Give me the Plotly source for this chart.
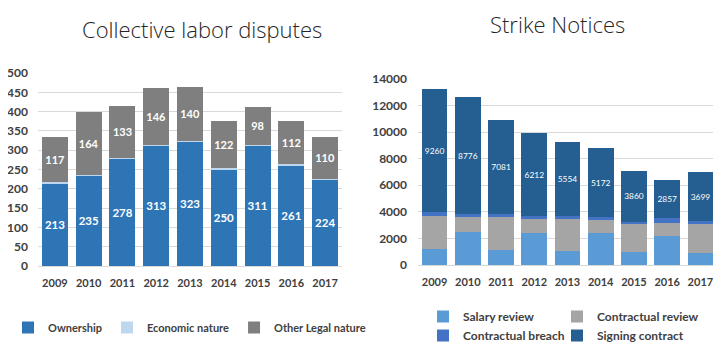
import plotly.graph_objects as go

years = ["2009", "2010", "2011", "2012", "2013", "2014", "2015", "2016", "2017"]

# Collective labor disputes
ownership = [213, 235, 278, 313, 323, 250, 311, 261, 224]
economic_nature = [4, 1, 3, 1, 2, 3, 3, 2, 1]
other_legal = [117, 164, 133, 146, 140, 122, 98, 112, 110]

# Strike notices
salary_review = [1200, 2450, 1100, 2400, 1080, 2400, 950, 2200, 870]
contractual_review = [2500, 1200, 2500, 1050, 2380, 980, 2200, 950, 2280]
contractual_breach = [260, 200, 250, 250, 230, 230, 100, 400, 150]
signing_contract = [9260, 8776, 7081, 6212, 5554, 5172, 3860, 2857, 3699]

FONT = "Lato"
TXT = "#404040"

fig = go.Figure()

def add(name, vals, color, xa, ya, legend, show_text, tsize, bold):
    fig.add_trace(go.Bar(
        x=years, y=vals, name=name, marker=dict(color=color, line=dict(width=0)),
        xaxis=xa, yaxis=ya, legend=legend,
        text=vals if show_text else None,
        texttemplate="%{text}" if show_text else None,
        textposition="inside" if show_text else "none",
        insidetextanchor="middle", textangle=0,
        textfont=dict(color="white", size=tsize, family=FONT, weight="bold" if bold else "normal"),
        hoverinfo="skip",
    ))

add("Ownership", ownership, "#2E75B6", "x", "y", "legend", True, 12, True)
add("Economic nature", economic_nature, "#BDD7EE", "x", "y", "legend", False, 12, True)
add("Other Legal nature", other_legal, "#7F7F7F", "x", "y", "legend", True, 11, True)

add("Salary review", salary_review, "#5B9BD5", "x2", "y2", "legend2", False, 11, False)
add("Contractual review", contractual_review, "#A5A5A5", "x2", "y2", "legend3", False, 11, False)
add("Contractual breach", contractual_breach, "#4472C4", "x2", "y2", "legend2", False, 11, False)
add("Signing contract", signing_contract, "#255E91", "x2", "y2", "legend3", True, 12, False)

# The page body adds an 8px margin; size the figure to fit the 721x364 window.
OFF = 8
W, H = 721 - OFF, 364 - OFF
def fx(px): return (px - OFF) / W
def fy(py): return 1 - (py - OFF) / H

common_x = dict(showgrid=False, showline=True, linecolor="#D9D9D9", ticks="",
                tickfont=dict(family=FONT, size=11, color=TXT, weight="bold"), fixedrange=True,
                automargin=False, ticklabelstandoff=7)
common_y = dict(showgrid=True, gridcolor="#D9D9D9", gridwidth=1, zeroline=False, showline=False,
                ticks="", fixedrange=True, automargin=False, tickformat="d")

legend_common = dict(xanchor="left", yanchor="top", traceorder="normal", bgcolor="rgba(0,0,0,0)",
                     itemwidth=30, itemclick=False, itemdoubleclick=False, tracegroupgap=0)
rfont = dict(family=FONT, size=12, color=TXT, weight="bold")

fig.update_layout(
    width=W, height=H,
    margin=dict(l=0, r=0, t=0, b=0, autoexpand=False),
    paper_bgcolor="white", plot_bgcolor="white",
    barmode="stack", bargap=0.23,
    font=dict(family=FONT, color=TXT),
    xaxis=dict(domain=[fx(38), fx(342)], anchor="y", **common_x),
    yaxis=dict(domain=[fy(266), fy(73)], anchor="x", range=[0, 500], dtick=50,
               tickfont=dict(family=FONT, size=12, color=TXT, weight="bold"),
               ticklabelstandoff=9, **common_y),
    xaxis2=dict(domain=[fx(418), fx(717)], anchor="y2", **common_x),
    yaxis2=dict(domain=[fy(265), fy(79)], anchor="x2", range=[0, 14000], dtick=2000,
                tickfont=dict(family=FONT, size=12, color=TXT, weight="bold"),
                ticklabelstandoff=10, **common_y),
    legend=dict(orientation="h", x=fx(8), y=fy(313),
                font=dict(family=FONT, size=11, color=TXT, weight="bold"), **legend_common),
    legend2=dict(orientation="v", x=fx(423), y=fy(302), font=rfont, **legend_common),
    legend3=dict(orientation="v", x=fx(557), y=fy(302), font=rfont, **legend_common),
    annotations=[
        dict(text="Collective labor disputes", x=fx(202), y=fy(29), xref="paper", yref="paper",
             xanchor="center", yanchor="middle", showarrow=False,
             font=dict(family="Open Sans", size=22, color="#262626", weight=300)),
        dict(text="Strike Notices", x=fx(557), y=fy(24), xref="paper", yref="paper",
             xanchor="center", yanchor="middle", showarrow=False,
             font=dict(family="Open Sans", size=22, color="#262626", weight=300)),
    ],
)

fig.write_html("out.html")
